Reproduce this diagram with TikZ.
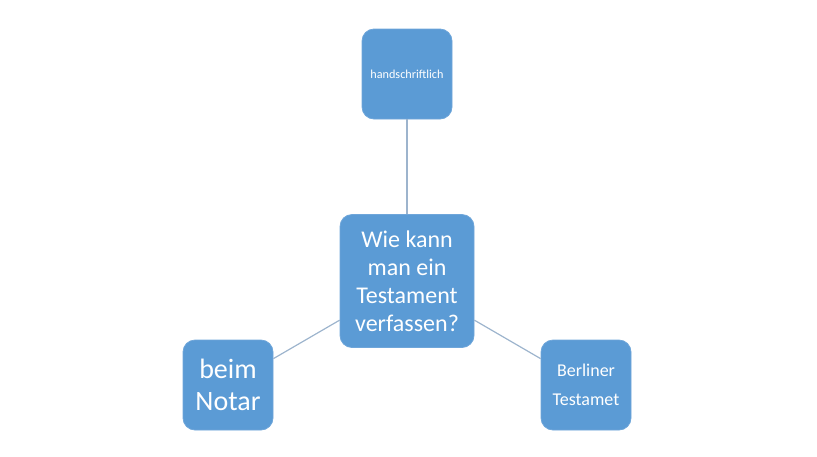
\documentclass[tikz,border=0pt]{standalone}
\usepackage{fontspec}
\setmainfont{Carlito}
\definecolor{boxblue}{HTML}{5B9BD5}
\definecolor{boxedge}{HTML}{6FA6DA}
\definecolor{linkgray}{HTML}{9DB4CD}
\begin{document}
\begin{tikzpicture}[x=0.5pt, y=-0.5pt,
    box/.style={draw=boxedge, fill=boxblue, text=white, rounded corners=6pt,
      minimum width=45pt, minimum height=45pt, inner sep=0pt, align=center},
    link/.style={draw=linkgray, line width=0.6pt}]
          \useasboundingbox (0,0) rectangle (817,456);
          \node[box, minimum width=67pt, minimum height=66.5pt,
            font=\fontsize{12}{14}\selectfont] (frage) at (407,281)
            {Wie kann\\man ein\\Testament\\verfassen?};
          \node[box, font=\fontsize{6.1}{7}\selectfont] (hand) at (407,74) {handschriftlich};
          \node[box, font=\fontsize{14}{16}\selectfont] (notar) at (228,385) {beim\\Notar};
          \node[box, font=\fontsize{9}{14.5}\selectfont] (berlin) at (586,385) {Berliner\\Testamet};
          \foreach \n in {hand, notar, berlin}{
              \draw[link] (frage) -- (\n);
          }
      \end{tikzpicture}
\end{document}
